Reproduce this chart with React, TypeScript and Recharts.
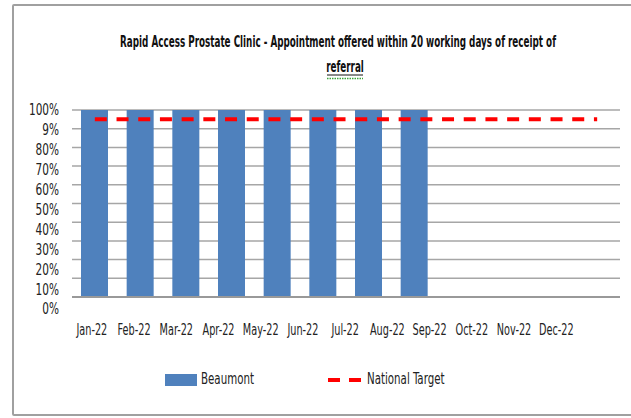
import { Bar, CartesianGrid, ComposedChart, Legend, Line, XAxis, YAxis } from 'recharts'

const months = ['Jan-22', 'Feb-22', 'Mar-22', 'Apr-22', 'May-22', 'Jun-22', 'Jul-22', 'Aug-22', 'Sep-22', 'Oct-22', 'Nov-22', 'Dec-22']
const beaumont = [1, 1, 1, 1, 1, 1, 1, 1, null, null, null, null]
const nationalTarget = [0.95, 0.95, 0.95, 0.95, 0.95, 0.95, 0.95, 0.95, 0.95, 0.95, 0.95, 0.95]
const yTicks = [0, 0.1, 0.2, 0.3, 0.4, 0.5, 0.6, 0.7, 0.8, 0.9, 1]
const yTickLabels = ['0%', '10%', '20%', '30%', '40%', '50%', '60%', '70%', '80%', '9%', '100%']

const FONT = "'DejaVu Sans Condensed', 'Open Sans', sans-serif"
const BLUE = '#4F81BD'
const RED = '#FF0000'

const data = months.map((m, i) => ({ month: m, beaumont: beaumont[i], target: nationalTarget[i] }))

// labels in the source drift a little from their gridlines / categories
function XTick({ x, y, payload }: any) {
  const nx = x - 3 - (x - 95) * 0.0755
  return (
    <text
      transform={`translate(${nx},${y + 26}) scale(0.72,1)`}
      textAnchor="middle"
      dominantBaseline="middle"
      fontFamily={FONT}
      fontSize={15}
      fill="#222"
    >
      {payload.value}
    </text>
  )
}

function YTick({ x, y, payload }: any) {
  const ny = 111 + (y - 110) * 1.064
  return (
    <text
      transform={`translate(${x - 5},${ny}) scale(0.78,1)`}
      textAnchor="end"
      dominantBaseline="middle"
      fontFamily={FONT}
      fontSize={15}
      fill="#222"
    >
      {yTickLabels[payload.index] ?? ''}
    </text>
  )
}

const narrow = { position: 'absolute' as const, top: 0, transform: 'scaleX(0.76)', transformOrigin: 'left center', whiteSpace: 'nowrap' as const }

function LegendContent() {
  return (
    <div style={{ position: 'relative', fontFamily: FONT, fontSize: 15, color: '#222', height: 20 }}>
      <span style={{ position: 'absolute', left: 165, top: 4, width: 32, height: 12, background: BLUE }} />
      <span style={{ ...narrow, left: 201 }}>Beaumont</span>
      <svg width={36} height={12} style={{ position: 'absolute', left: 328, top: 4 }}>
        <line x1={0} y1={6} x2={36} y2={6} stroke={RED} strokeWidth={4} strokeDasharray="12 9" />
      </svg>
      <span style={{ ...narrow, left: 367 }}>National Target</span>
    </div>
  )
}

export default function App() {
  return (
    <div style={{ position: 'absolute', left: 0, top: 0, width: 631, height: 418, overflow: 'hidden', background: '#fff' }}>
      <div style={{ position: 'absolute', left: 12, top: 4, width: 640, height: 408, border: '2px solid #A0A0A0', borderRadius: 2 }} />
      <svg width={631} height={100} style={{ position: 'absolute', left: 0, top: 0 }}>
        <text transform="translate(338,47) scale(0.612,1)" textAnchor="middle" fontFamily={FONT} fontWeight="bold" fontSize={16} fill="#111">
          Rapid Access Prostate Clinic - Appointment offered within 20 working days of receipt of
        </text>
        <text transform="translate(345,72) scale(0.612,1)" textAnchor="middle" fontFamily={FONT} fontWeight="bold" fontSize={16} fill="#111">
          referral
        </text>
        <line x1={327} y1={75} x2={363} y2={75} stroke="#111" strokeWidth={1} />
        <line x1={327} y1={78.5} x2={363} y2={78.5} stroke="#3BA33B" strokeWidth={1.5} strokeDasharray="1.5 1" />
      </svg>
      <ComposedChart width={631} height={418} data={data} margin={{ top: 110, right: 11, left: 0, bottom: 61 }}>
        <CartesianGrid vertical={false} stroke="#A6A6A6" strokeWidth={1.5} />
        <XAxis dataKey="month" height={40} tick={<XTick />} tickLine={false} axisLine={{ stroke: '#999', strokeWidth: 2 }} interval={0} />
        <YAxis
          width={72}
          domain={[0, 1]}
          ticks={yTicks}
          tick={<YTick />}
          tickLine={false}
          axisLine={false}
          interval={0}
        />
        <Bar dataKey="beaumont" name="Beaumont" fill={BLUE} barSize={27} isAnimationActive={false} />
        <Line
          dataKey="target"
          name="National Target"
          stroke={RED}
          strokeWidth={4}
          strokeDasharray="12 9.7"
          dot={false}
          isAnimationActive={false}
        />
        <Legend verticalAlign="bottom" content={<LegendContent />} wrapperStyle={{ top: 370, left: 0, bottom: 'auto', width: 631, height: 20 }} />
      </ComposedChart>
    </div>
  )
}
